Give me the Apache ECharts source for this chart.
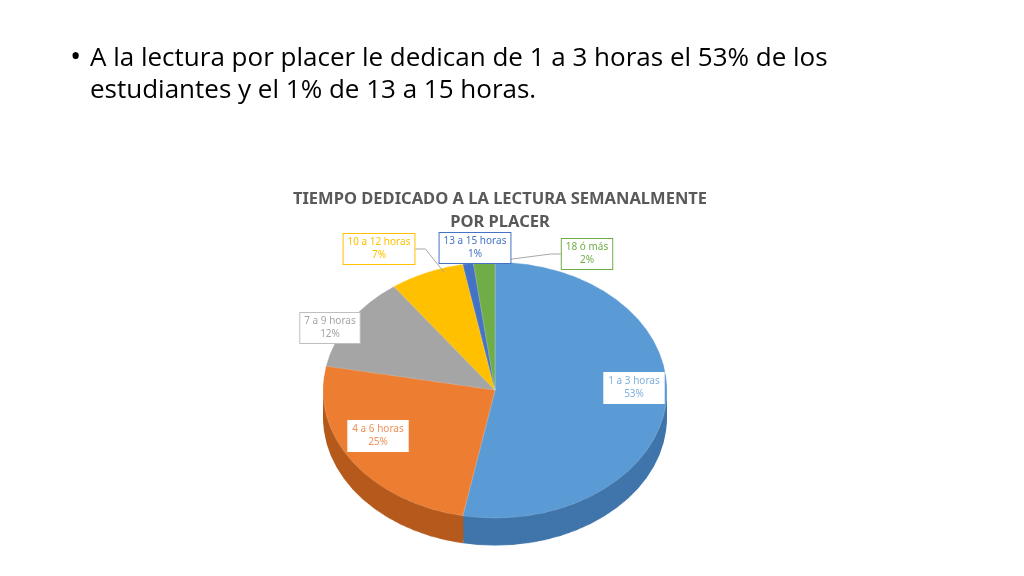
<!DOCTYPE html>
<html lang="es">
<head>
<meta charset="UTF-8">
<title>Tiempo dedicado a la lectura</title>
<script src="https://cdn.jsdelivr.net/npm/echarts@6/dist/echarts.min.js"></script>
<style>
  body { margin: 0; background: #fff; }
  #wrap { position: relative; width: 1024px; height: 576px; overflow: hidden; }
  #pie { position: absolute; left: 0; top: 0; width: 1024px; height: 760px;
         transform: scaleY(0.744); transform-origin: 0 390px; }
  #main { position: absolute; left: 0; top: 0; width: 1024px; height: 576px; }
</style>
</head>
<body>
<div id="wrap">
  <div id="pie"></div>
  <div id="main"></div>
</div>
<script type="text/javascript">
// datos del grafico
var categorias = ['1 a 3 horas', '4 a 6 horas', '7 a 9 horas', '10 a 12 horas', '13 a 15 horas', '18 ó más'];
var porcentajes = [53, 25, 12, 7, 1, 2];

var colores = ['#5B9BD5', '#ED7D31', '#A5A5A5', '#FFC000', '#4472C4', '#70AD47'];
var coloresLado = ['#3f75aa', '#b55a1c', '#7c7c7c', '#c99700', '#2f5597', '#507e32'];
var coloresTexto = ['#7fb0de', '#ef915a', '#a5a5a5', '#ffc000', '#4472c4', '#70ad47'];
var bordes = ['#ffffff', '#ffffff', '#bfbfbf', '#ffc000', '#4472c4', '#70ad47'];
// donde van las etiquetas (px)
var posEtiqueta = [[634, 388], [378, 436], [330, 328], [379, 249], [475, 248], [587, 254]];
var conLinea = [false, false, false, true, false, true];

// --- pastel (se aplasta con CSS para que parezca elipse) ---
var pieChart = echarts.init(document.getElementById('pie'));
var capas = [];
var nCapas = 9;
for (var k = nCapas; k >= 1; k--) {
    capas.push({
        type: 'pie',
        silent: true,
        startAngle: 90,
        center: [495, 390 + k * 37 / nCapas],
        radius: 172,
        label: { show: false },
        labelLine: { show: false },
        animation: false,
        data: categorias.map(function (c, i) {
            return { name: c, value: porcentajes[i], itemStyle: { color: coloresLado[i] } };
        })
    });
}
capas.push({
    type: 'pie',
    silent: true,
    startAngle: 90,
    center: [495, 390],
    radius: 172,
    label: { show: false },
    labelLine: { show: false },
    animation: false,
    itemStyle: { borderColor: 'rgba(255,255,255,0.35)', borderWidth: 0.6 },
    data: categorias.map(function (c, i) {
        return { name: c, value: porcentajes[i], itemStyle: { color: colores[i] } };
    })
});
pieChart.setOption({ series: capas });

// --- titulo, texto y etiquetas ---
var myChart = echarts.init(document.getElementById('main'));
var option = {
    backgroundColor: 'transparent',
    title: {
        text: 'TIEMPO DEDICADO A LA LECTURA SEMANALMENTE\nPOR PLACER',
        left: 495, top: 183, textAlign: 'center',
        textStyle: { fontFamily: 'Noto Sans', fontSize: 16.5, fontWeight: 'bold', color: '#595959', lineHeight: 23 }
    },
    graphic: [
        { type: 'text', left: 70, top: 42, style: { text: '•', font: '30px "Open Sans"', fill: '#000' } },
        {
            type: 'text', left: 90, top: 43,
            style: {
                text: 'A la lectura por placer le dedican de 1 a 3 horas el 53% de los\nestudiantes y el 1% de 13 a 15 horas.',
                font: '26px "Open Sans"', fill: '#000', lineHeight: 32
            }
        }
    ],
    series: [{
        type: 'pie',
        silent: true,
        startAngle: 90,
        center: [495, 390],
        radius: 128,
        animation: false,
        itemStyle: { color: 'rgba(0,0,0,0)' },
        label: {
            show: true,
            formatter: '{b}\n{c}%',
            fontFamily: 'Noto Sans',
            fontSize: 10,
            lineHeight: 13,
            backgroundColor: '#fff',
            borderWidth: 1,
            padding: [2, 4],
            align: 'center'
        },
        labelLine: { show: true, length: 10, length2: 10, lineStyle: { color: '#a6a6a6', width: 1 } },
        labelLayout: function (p) {
            var pos = posEtiqueta[p.dataIndex];
            return { x: pos[0], y: pos[1], align: 'center', verticalAlign: 'middle' };
        },
        data: categorias.map(function (c, i) {
            return {
                name: c, value: porcentajes[i],
                label: { color: coloresTexto[i], borderColor: bordes[i] },
                labelLine: { show: conLinea[i] }
            };
        })
    }]
};
myChart.setOption(option);
</script>
</body>
</html>
